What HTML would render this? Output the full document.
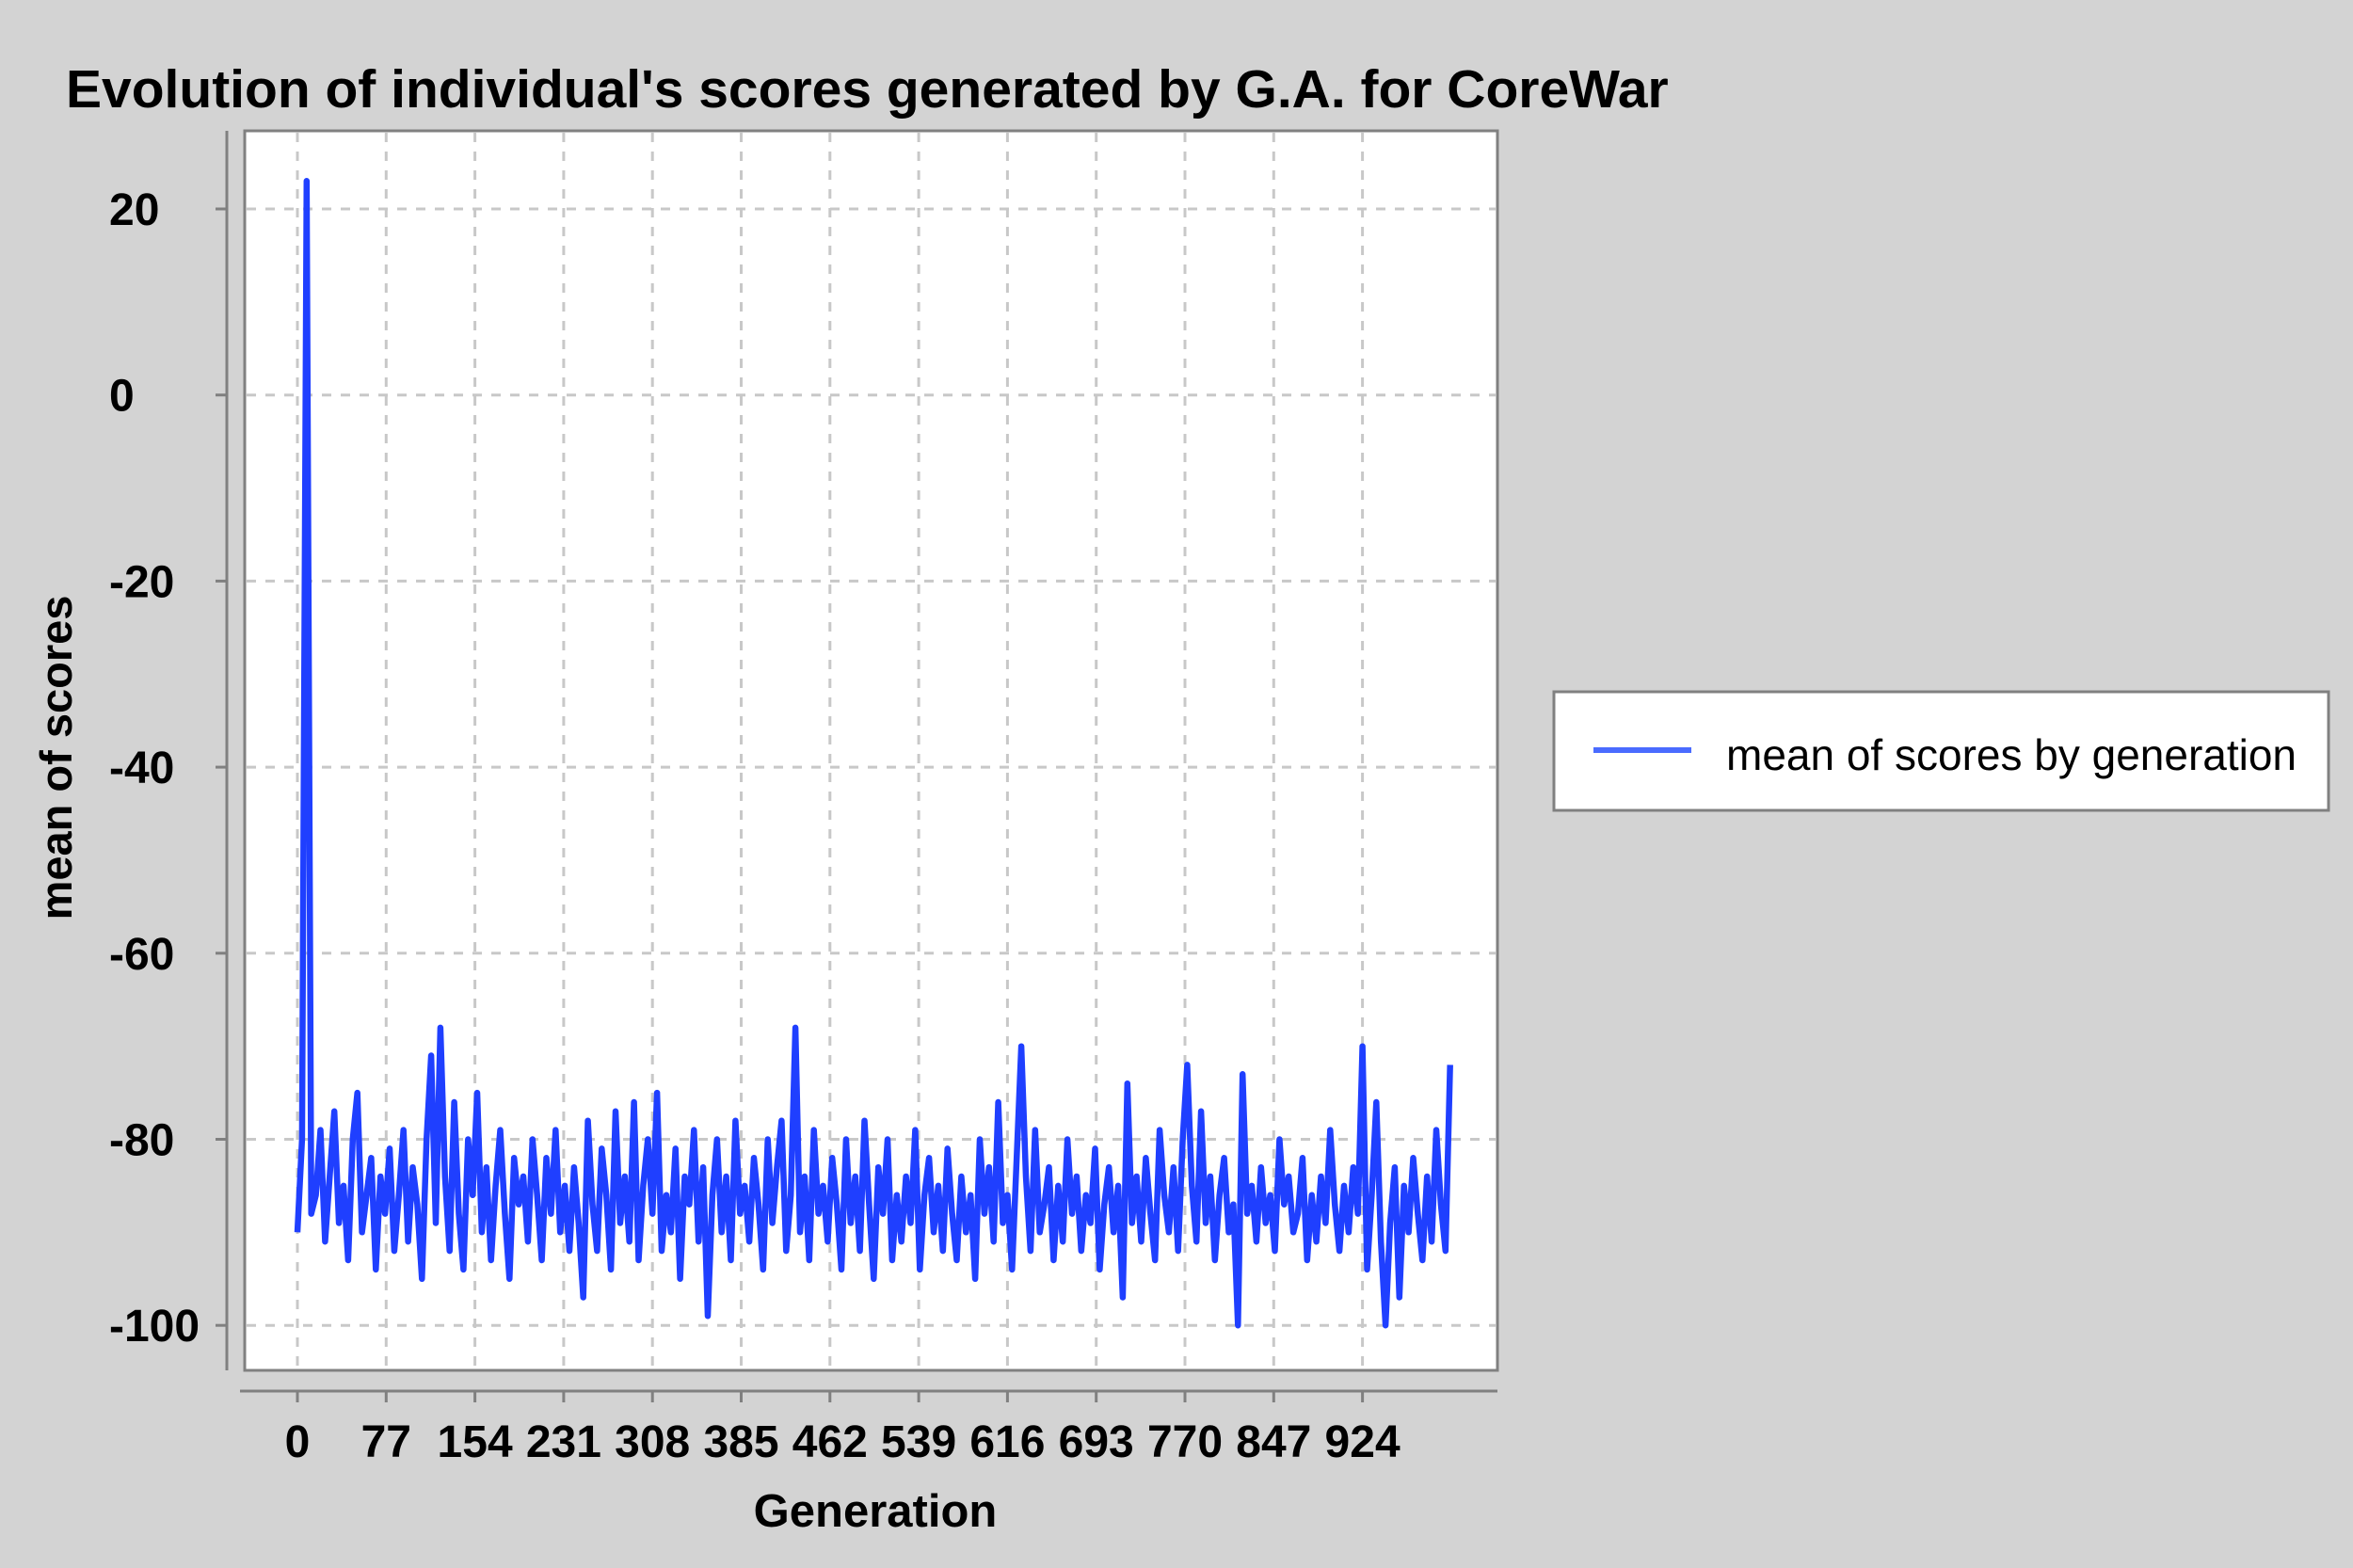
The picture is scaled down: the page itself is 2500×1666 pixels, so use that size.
<!DOCTYPE html>
<html><head><meta charset="utf-8">
<style>
html,body{margin:0;padding:0;background:#d3d3d3;}
svg{display:block;font-family:"Liberation Sans",Arial,sans-serif;}
</style></head>
<body>
<svg id="chart" width="2500" height="1666" viewBox="0 0 2500 1666" xmlns="http://www.w3.org/2000/svg">
<rect x="0" y="0" width="2500" height="1666" fill="#d3d3d3"/>
<text x="70" y="114" font-size="57" font-weight="bold" fill="#000">Evolution of individual's scores generated by G.A. for CoreWar</text>
<rect x="260" y="139" width="1331" height="1317" fill="#fff" stroke="#808080" stroke-width="3"/>
<g id="grid"></g>
<g id="series"></g>
<line x1="241" y1="139" x2="241" y2="1456" stroke="#808080" stroke-width="3"/>
<line x1="255" y1="1478" x2="1591" y2="1478" stroke="#808080" stroke-width="3"/>
<g id="yticks"></g>
<g id="xticks"></g>
<text x="930" y="1622" font-size="49" font-weight="bold" text-anchor="middle">Generation</text>
<text transform="translate(76,805) rotate(-90)" font-size="47" font-weight="bold" text-anchor="middle">mean of scores</text>
<g>
<rect x="1651" y="735" width="823" height="126" fill="#fff" stroke="#808080" stroke-width="3"/>
<line x1="1693" y1="797" x2="1797" y2="797" stroke="#4a6bff" stroke-width="6"/>
<text x="1834" y="818" font-size="46" fill="#000">mean of scores by generation</text>
</g>
</svg>
<script>
const xTickLabels=[0,77,154,231,308,385,462,539,616,693,770,847,924];
const yTickLabels=[20,0,-20,-40,-60,-80,-100];
const generationStep=4;
const meanScores=[
-90,-80,23,-88,-86,-79,-91,-84,-77,-89,
-85,-93,-80,-75,-90,-86,-82,-94,-84,-88,
-81,-92,-86,-79,-91,-83,-87,-95,-80,-71,
-89,-68,-84,-92,-76,-88,-94,-80,-86,-75,
-90,-83,-93,-85,-79,-88,-95,-82,-87,-84,
-91,-80,-86,-93,-82,-88,-79,-90,-85,-92,
-83,-89,-97,-78,-87,-92,-81,-86,-94,-77,
-89,-84,-91,-76,-93,-85,-80,-88,-75,-92,
-86,-90,-81,-95,-84,-87,-79,-91,-83,-99,
-86,-80,-90,-84,-93,-78,-88,-85,-91,-82,
-87,-94,-80,-89,-83,-78,-92,-86,-68,-90,
-84,-93,-79,-88,-85,-91,-82,-87,-94,-80,
-89,-84,-92,-78,-87,-95,-83,-88,-80,-93,
-86,-91,-84,-89,-79,-94,-86,-82,-90,-85,
-92,-81,-88,-93,-84,-90,-86,-95,-80,-88,
-83,-91,-76,-89,-86,-94,-82,-70,-84,-92,
-79,-90,-87,-83,-93,-85,-91,-80,-88,-84,
-92,-86,-89,-81,-94,-87,-83,-90,-85,-97,
-74,-89,-84,-91,-82,-88,-93,-79,-86,-90,
-83,-92,-80,-72,-85,-91,-77,-89,-84,-93,
-86,-82,-90,-87,-100,-73,-88,-85,-91,-83,
-89,-86,-92,-80,-87,-84,-90,-88,-82,-93,
-86,-91,-84,-89,-79,-87,-92,-85,-90,-83,
-88,-70,-94,-86,-76,-91,-100,-89,-83,-97,
-85,-90,-82,-88,-93,-84,-91,-79,-87,-92,-72];
const NS="http://www.w3.org/2000/svg";
function xs(g){return 316+(g/77)*94.3;}
function ys(v){return 222+(20-v)/20*197.7;}
function mk(tag,attrs,parent){const e=document.createElementNS(NS,tag);for(const k in attrs)e.setAttribute(k,attrs[k]);parent.appendChild(e);return e;}
const grid=document.getElementById('grid'),yt=document.getElementById('yticks'),xt=document.getElementById('xticks'),ser=document.getElementById('series');
yTickLabels.forEach(v=>{
  const y=ys(v);
  const gl=mk('line',{x1:262,x2:1589,y1:y,y2:y,stroke:'#c8c8c8','stroke-width':3,'stroke-dasharray':'10,10'},grid);
  
  
  const tk=mk('line',{x1:229,x2:241,y1:y,y2:y,stroke:'#808080','stroke-width':3},yt);
  
  
  const t=mk('text',{x:116,y:y+17,'font-size':48,'font-weight':'bold','text-anchor':'start'},yt);
  t.textContent=v;
  
  
});
xTickLabels.forEach(g=>{
  const x=xs(g);
  const gl=mk('line',{x1:x,x2:x,y1:141,y2:1454,stroke:'#c8c8c8','stroke-width':3,'stroke-dasharray':'10,10'},grid);
  
  
  const tk=mk('line',{x1:x,x2:x,y1:1478,y2:1490,stroke:'#808080','stroke-width':3},xt);
  
  
  const t=mk('text',{x:x,y:1548,'font-size':48,'font-weight':'bold','text-anchor':'middle'},xt);
  t.textContent=g;
  
  
});
const pts=meanScores.map((v,i)=>xs(i*generationStep).toFixed(1)+','+ys(v).toFixed(1)).join(' ');
const pl=mk('polyline',{points:pts,fill:'none',stroke:'#1f3fff','stroke-width':6.5,'stroke-linejoin':'round'},ser);


</script>
</body></html>
